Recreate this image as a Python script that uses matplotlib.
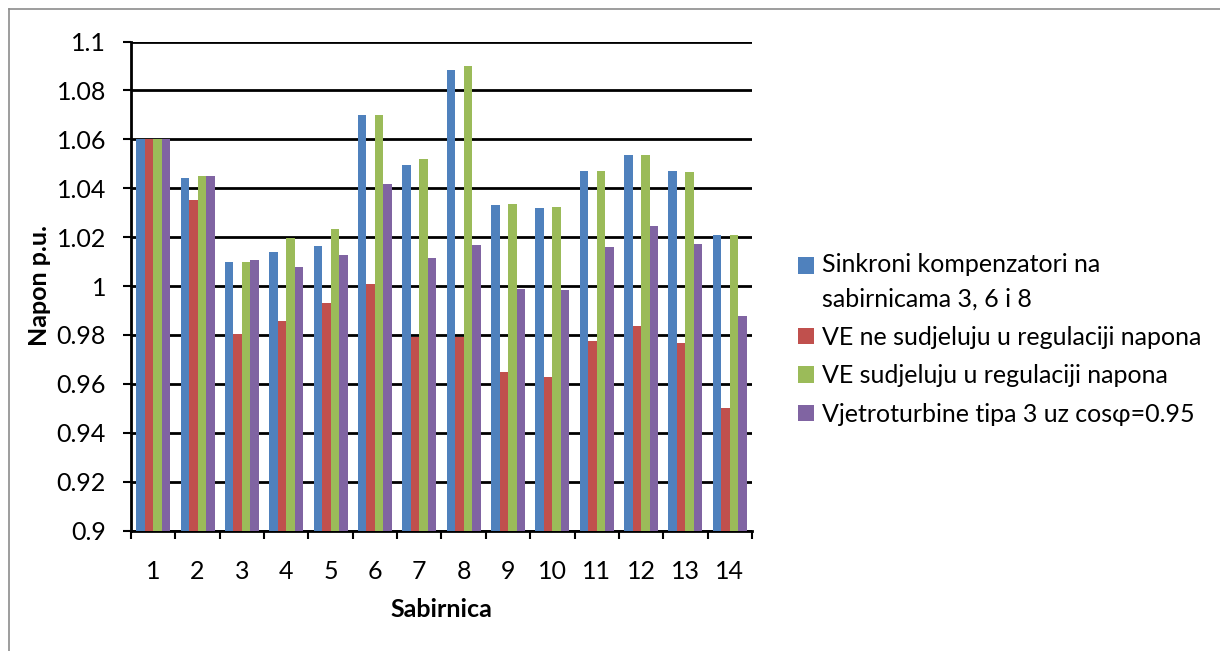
"""Napon po sabirnicama - grouped bar chart."""

import matplotlib

matplotlib.use("Agg")
import matplotlib.pyplot as plt
import numpy as np
from matplotlib.legend_handler import HandlerPatch
from matplotlib.lines import Line2D
from matplotlib.patches import Rectangle

# data
sabirnice = list(range(1, 15))
sinkroni = [1.060, 1.0442, 1.0098, 1.0139, 1.0164, 1.0699, 1.0495, 1.0883, 1.0331, 1.0319, 1.0470, 1.0536, 1.0470, 1.0209]
ve_ne = [1.060, 1.0352, 0.9804, 0.9857, 0.9930, 1.0008, 0.9791, 0.9790, 0.9648, 0.9628, 0.9775, 0.9836, 0.9767, 0.9500]
ve_da = [1.060, 1.0450, 1.0098, 1.0195, 1.0233, 1.0700, 1.0519, 1.0900, 1.0335, 1.0323, 1.0470, 1.0536, 1.0466, 1.0210]
tip3 = [1.060, 1.0450, 1.0106, 1.0078, 1.0127, 1.0417, 1.0115, 1.0168, 0.9988, 0.9984, 1.0160, 1.0245, 1.0172, 0.9877]
series_labels = [
    "Sinkroni kompenzatori na\nsabirnicama 3, 6 i 8",
    "VE ne sudjeluju u regulaciji napona",
    "VE sudjeluju u regulaciji napona",
    "Vjetroturbine tipa 3 uz cosφ=0.95",
]
y_ticks = [0.9, 0.92, 0.94, 0.96, 0.98, 1.0, 1.02, 1.04, 1.06, 1.08, 1.1]
y_tick_labels = ["0.9", "0.92", "0.94", "0.96", "0.98", "1", "1.02", "1.04", "1.06", "1.08", "1.1"]

colors = ["#4F81BD", "#C0504D", "#9BBB59", "#8064A2"]

plt.rcParams["font.family"] = ["Lato", "DejaVu Sans"]

W, H = 1220, 651
fs = 18

fig = plt.figure(figsize=(W / 100, H / 100), dpi=100)

# grey frame (only left and top edge are inside the image)
fig.lines.append(Line2D([9 / W, 9 / W], [0, 1 - 9 / H], transform=fig.transFigure, color="#8c8c8c", lw=1.2))
fig.lines.append(Line2D([9 / W, 1], [1 - 9 / H, 1 - 9 / H], transform=fig.transFigure, color="#8c8c8c", lw=1.2))

ax = fig.add_axes([131 / W, (H - 530.5) / H, (752 - 131) / W, (530.5 - 41.5) / H])

x = np.array(sabirnice, dtype=float)
bw = 1 / 5.22
all_series = [sinkroni, ve_ne, ve_da, tip3]
handles = []
for i, (vals, col) in enumerate(zip(all_series, colors)):
    bars = ax.bar(x + (i - 1.5) * bw, vals, width=bw, color=col, zorder=3)
    handles.append(bars.patches[0])

ax.set_xlim(0.5, 14.5)
ax.set_ylim(0.9, 1.1)
ax.set_yticks(y_ticks)
ax.set_yticklabels(y_tick_labels)
ax.set_xticks(x)
ax.set_xticklabels([str(s) for s in sabirnice])
ax.set_xticks(np.arange(0.5, 15, 1.0), minor=True)

ax.yaxis.grid(True, color="black", linewidth=2.0, zorder=1)
ax.set_axisbelow(True)
for side in ["top", "right"]:
    ax.spines[side].set_visible(False)
ax.spines["left"].set_linewidth(2)
ax.spines["bottom"].set_linewidth(2)
ax.tick_params(axis="y", direction="out", length=6, width=1.5, labelsize=fs, pad=12)
ax.tick_params(axis="x", which="major", length=0, labelsize=fs, pad=21)
ax.tick_params(axis="x", which="minor", direction="out", length=6, width=1.5)

ax.set_ylabel("Napon p.u.", fontsize=fs, fontweight="bold", labelpad=4)
ax.set_xlabel("Sabirnica", fontsize=fs, fontweight="bold", labelpad=11)


def first_line_patch(legend, orig_handle, xdescent, ydescent, width, height, fontsize):
    # align the marker of the two-line entry with its first line
    return Rectangle((-xdescent, -ydescent + 12), width, height)


leg = fig.legend(handles, series_labels, loc="upper left", bbox_to_anchor=(798 / W, (H - 253) / H),
                 frameon=False, fontsize=fs, handlelength=0.65, handleheight=0.65,
                 handletextpad=0.3, labelspacing=0.62, borderpad=0, borderaxespad=0,
                 handler_map={handles[0]: HandlerPatch(patch_func=first_line_patch)})
for t in leg.get_texts():
    t.set_linespacing(1.6)

fig.savefig("out.png", dpi=100)
